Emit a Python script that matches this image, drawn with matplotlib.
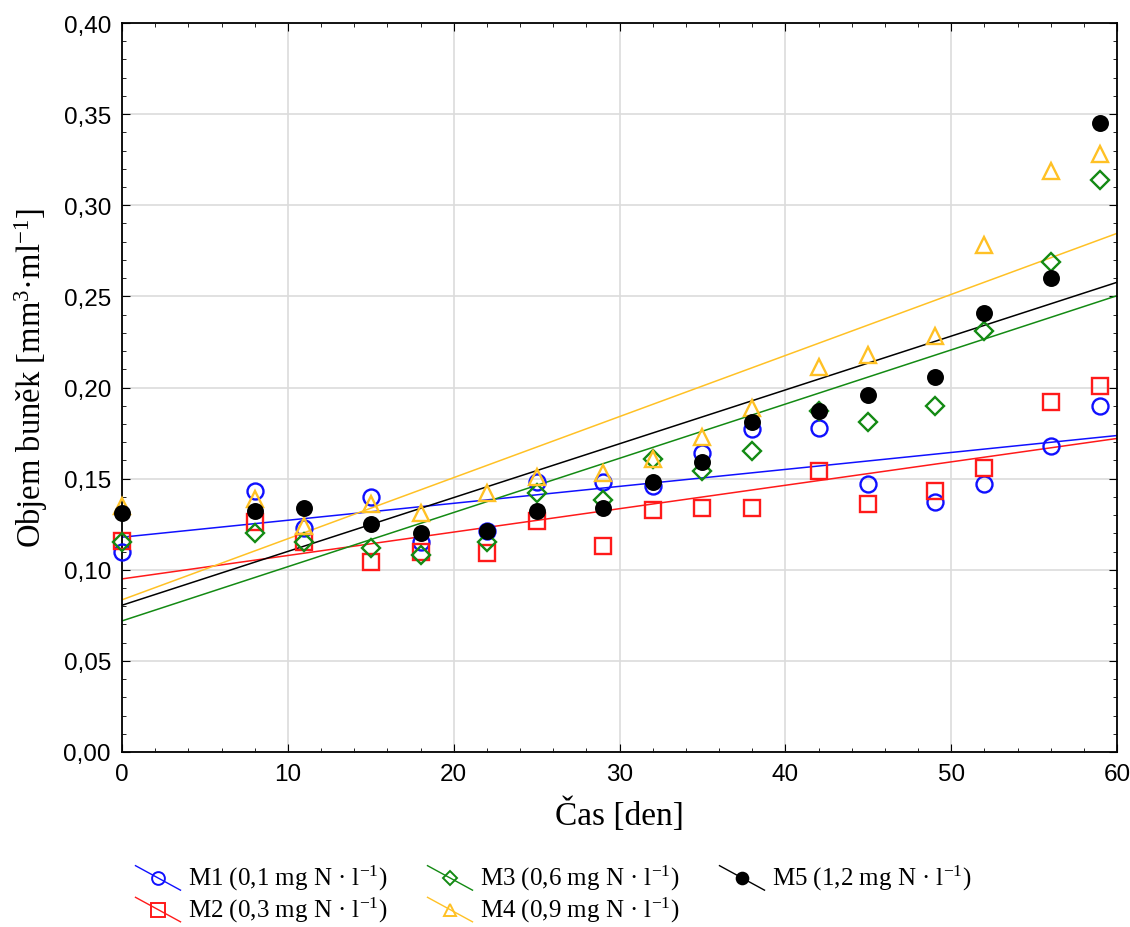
import numpy as np
import matplotlib
matplotlib.use('Agg')
from matplotlib import pyplot as plt
from matplotlib.ticker import MultipleLocator, FuncFormatter
from matplotlib.legend_handler import HandlerLine2D
from matplotlib.lines import Line2D

plt.rcParams['mathtext.fontset'] = 'custom'
plt.rcParams['mathtext.rm'] = 'Liberation Serif'
plt.rcParams['mathtext.it'] = 'Liberation Serif:italic'
plt.rcParams['mathtext.default'] = 'rm'

# den odberu
dny = [0, 8, 11, 15, 18, 22, 25, 29, 32, 35, 38, 42, 45, 49, 52, 56, 59]

m1 = [0.110, 0.143, 0.123, 0.140, 0.115, 0.121, 0.148, 0.148, 0.146, 0.164, 0.177, 0.178, 0.147, 0.137, 0.147, 0.168, 0.190]
m2 = [0.116, 0.126, 0.115, 0.104, 0.110, 0.109, 0.127, 0.113, 0.133, 0.134, 0.134, 0.154, 0.136, 0.143, 0.156, 0.192, 0.201]
m3 = [0.115, 0.120, 0.115, 0.112, 0.108, 0.115, 0.142, 0.138, 0.161, 0.154, 0.165, 0.187, 0.181, 0.190, 0.231, 0.269, 0.314]
m4 = [0.135, 0.139, 0.124, 0.136, 0.131, 0.142, 0.151, 0.153, 0.161, 0.173, 0.189, 0.211, 0.218, 0.228, 0.278, 0.319, 0.328]
m5 = [0.131, 0.132, 0.134, 0.125, 0.120, 0.121, 0.132, 0.134, 0.148, 0.159, 0.181, 0.187, 0.196, 0.206, 0.241, 0.260, 0.345]

popisky = ['M1 (0,1 mg N · l$^{-1}$)', 'M2 (0,3 mg N · l$^{-1}$)', 'M3 (0,6 mg N · l$^{-1}$)',
           'M4 (0,9 mg N · l$^{-1}$)', 'M5 (1,2 mg N · l$^{-1}$)']
barvy = ['#1010ff', '#ff1a1a', '#138a13', '#ffc125', 'black']
znacky = ['o', 's', 'D', '^', 'o']
velikosti = [11.5, 12, 9, 11, 10.5]


class DiagHandler(HandlerLine2D):
    # statistica-like legend: diagonal line through marker
    def create_artists(self, legend, orig_handle, xdescent, ydescent, width, height, fontsize, trans):
        x0, x1 = -xdescent, -xdescent + width
        y0, y1 = -ydescent + height * 1.1, -ydescent - height * 0.3
        ln = Line2D([x0, x1], [y0, y1], color=orig_handle.get_color(), lw=1.0, transform=trans)
        mk = Line2D([(x0 + x1) / 2], [(y0 + y1) / 2], ls='none', marker=orig_handle.get_marker(),
                    markersize=orig_handle.get_markersize() * 0.8,
                    markerfacecolor=orig_handle.get_markerfacecolor(),
                    markeredgecolor=orig_handle.get_markeredgecolor(),
                    markeredgewidth=orig_handle.get_markeredgewidth(), transform=trans)
        return [ln, mk]


Figura = plt.figure(figsize=(11.3, 9.28), dpi=100)
ax = Figura.add_axes([0.108, 0.1886, 0.8805, 0.7855])

x = np.array(dny, dtype=float)
xx = np.array([0, 60])
handles = []
for i, data in enumerate([m1, m2, m3, m4, m5]):
    y = np.array(data)
    k, q = np.polyfit(x, y, 1)
    ax.plot(xx, k * xx + q, color=barvy[i], lw=1.1, zorder=2)
    face = 'black' if i == 4 else 'none'
    ax.plot(x, y, ls='none', marker=znacky[i], markersize=velikosti[i], markerfacecolor=face,
            markeredgecolor=barvy[i], markeredgewidth=1.7, zorder=3, clip_on=False)
    handles.append(Line2D([], [], color=barvy[i], marker=znacky[i], markersize=velikosti[i],
                          markerfacecolor=face, markeredgecolor=barvy[i], markeredgewidth=1.4))

ax.set_xlim(0, 60)
ax.set_ylim(0, 0.40)
ax.xaxis.set_major_locator(MultipleLocator(10))
ax.xaxis.set_minor_locator(MultipleLocator(2))
ax.yaxis.set_major_locator(MultipleLocator(0.05))
ax.yaxis.set_minor_locator(MultipleLocator(0.01))
ax.yaxis.set_major_formatter(FuncFormatter(lambda v, p: ('%.2f' % v).replace('.', ',')))
ax.grid(True, which='major', color='#dcdcdc', lw=1.2)
ax.set_axisbelow(True)
ax.tick_params(which='both', direction='in', top=True, right=True)
ax.tick_params(which='major', length=6, labelsize=17.5, pad=8)
ax.tick_params(which='minor', length=3)
for s in ax.spines.values():
    s.set_linewidth(1.3)
for lab in ax.get_xticklabels() + ax.get_yticklabels():
    lab.set_fontfamily('Liberation Sans')

ax.set_xlabel('Čas [den]', fontsize=24, family='Liberation Serif', labelpad=8)
ax.set_ylabel('Objem buněk [mm$^3$·ml$^{-1}$]', fontsize=23.5, family='Liberation Serif')
ax.yaxis.set_label_coords(-0.072, 0.515)

leg = Figura.legend(handles, popisky, ncol=3, loc='upper left', bbox_to_anchor=(0.1, 0.093),
                    frameon=False, handler_map={Line2D: DiagHandler()},
                    prop={'family': 'Liberation Serif', 'size': 18},
                    handlelength=1.8, handletextpad=0.3, columnspacing=1.6, labelspacing=0.1)

Figura.savefig('out.png', dpi=100)
